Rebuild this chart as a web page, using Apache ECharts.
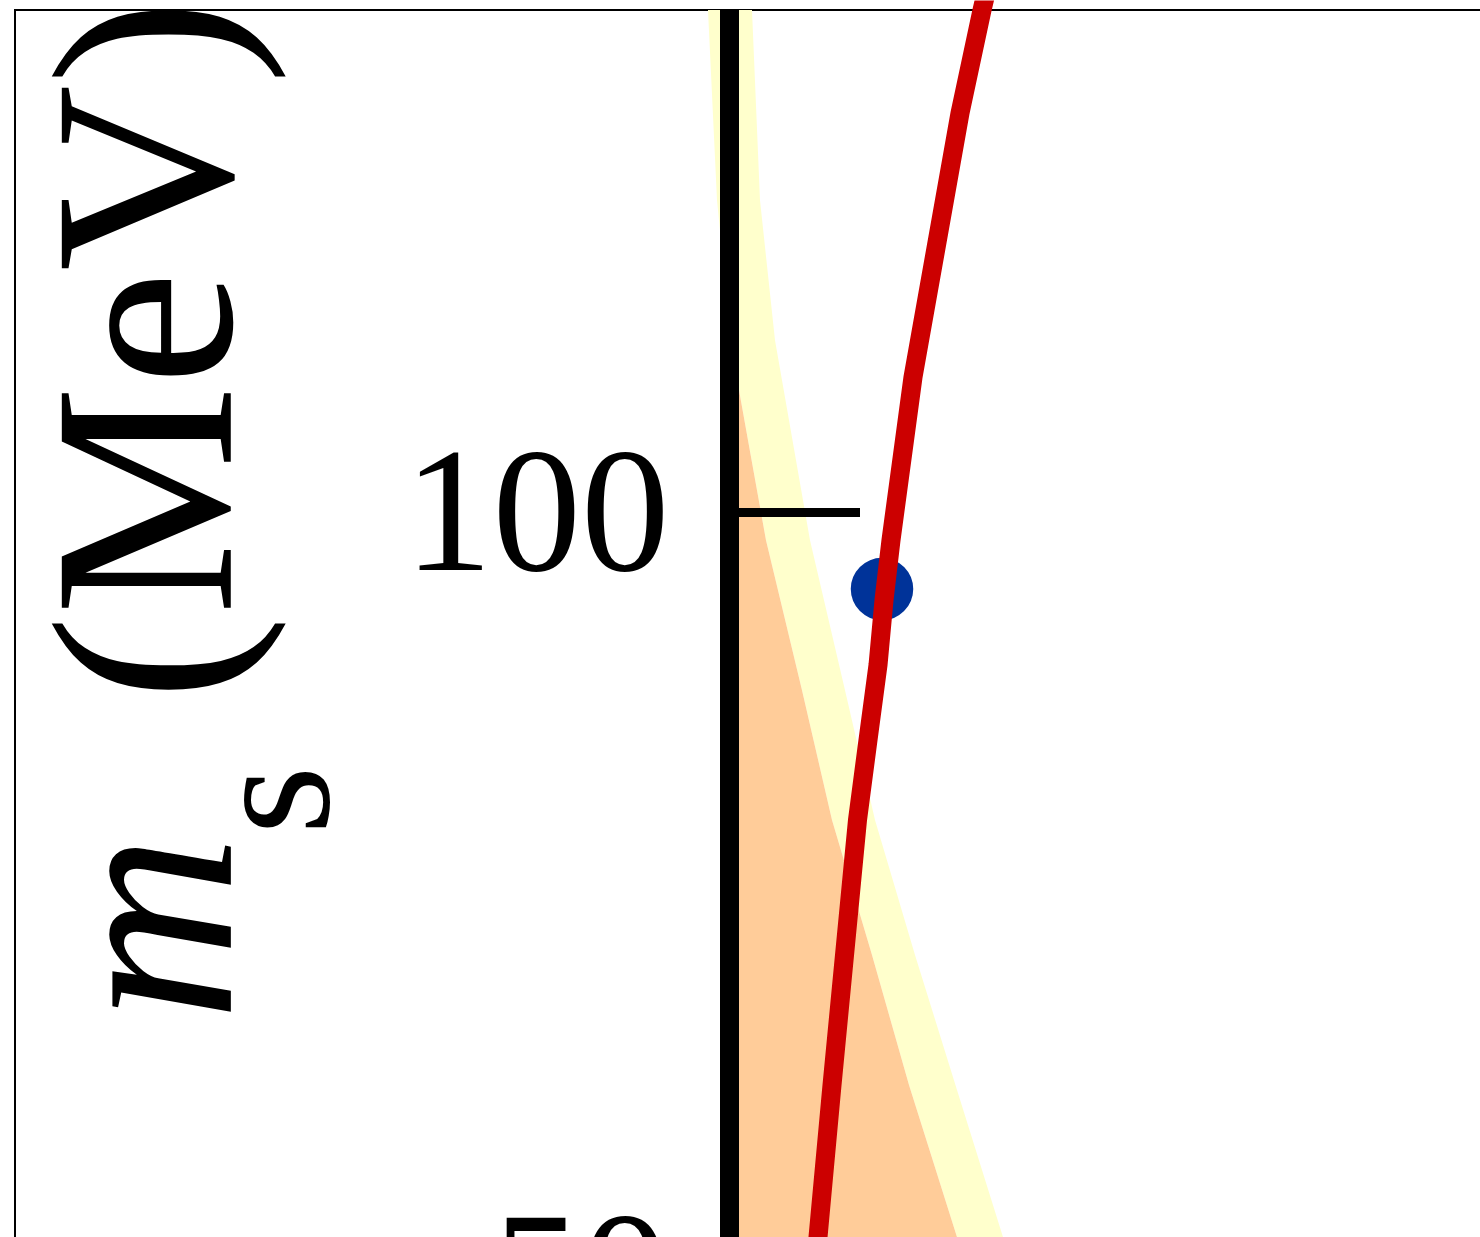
<!DOCTYPE html>
<html>
<head>
<meta charset="utf-8">
<script src="https://cdn.jsdelivr.net/npm/echarts@6/dist/echarts.min.js"></script>
<style>
html,body{margin:0;padding:0;background:#fff;}
#chart{width:1480px;height:1237px;}
</style>
</head>
<body>
<div id="chart"></div>
<script>
// y-axis tick values (MeV)
const yTickValues = [50, 100];

// boundary curve (left edge of the yellow band / right edge of the orange region)
const boundaryX = [-0.222, -0.215, -0.125, 0.015, 0.095, 0.185, 0.275, 0.365, 0.725, 1.025, 1.425, 1.795, 2.275, 2.435];
const boundaryY = [134.2, 132.89, 120.45, 111.29, 108.02, 104.74, 101.47, 98.2, 88.38, 79.88, 71.04, 62.53, 52.58, 49.1];

// outer edge of the yellow band
const bandEdgeX = [0.22, 0.225, 0.305, 0.455, 0.805, 1.155, 1.455, 1.855, 2.275, 2.735, 2.905];
const bandEdgeY = [134.2, 132.89, 120.45, 111.29, 98.2, 88.38, 79.88, 71.04, 62.21, 52.58, 49.1];

// red m_s curve
const msCurveX = [2.56, 2.525, 2.305, 1.835, 1.615, 1.545, 1.485, 1.385, 1.28, 1.155, 1.025, 0.885, 0.835];
const msCurveY = [133.87, 132.89, 126.15, 108.87, 98.2, 94.27, 90.02, 85.11, 79.88, 71.37, 62.53, 52.58, 49.1];

// blue point
const msPointX = [1.525];
const msPointY = [95.0];

const chart = echarts.init(document.getElementById('chart'), null, {renderer: 'canvas'});

const pair = (xs, ys) => xs.map((x, i) => [x, ys[i]]);
const orangeData = pair(boundaryX, boundaryY).filter(p => p[0] >= 0);

const serif = 'Liberation Serif';

const option = {
  animation: false,
  backgroundColor: '#fff',
  grid: {
    left: 15, top: 10, width: 1714.5, height: 1266.5,
    show: true, borderColor: '#000', borderWidth: 2,
    backgroundColor: 'transparent',
    containLabel: false,
    outerBoundsMode: 'none'
  },
  xAxis: {
    type: 'value', min: -7.145, max: 10, show: false,
    splitLine: {show: false}
  },
  yAxis: {
    type: 'value', min: 50, max: 132.9, interval: 50, z: 10,
    position: 'left',
    offset: -714.5,
    axisLine: {show: true, onZero: false, lineStyle: {color: '#000', width: 19, cap: 'butt'}},
    axisTick: {show: true, inside: true, length: 130.5, customValues: yTickValues,
               lineStyle: {color: '#000', width: 9, cap: 'butt'}},
    axisLabel: {
      show: true, margin: 60, color: '#000',
      fontFamily: serif, fontSize: 177,
      showMinLabel: true, showMaxLabel: false, hideOverlap: false,
      formatter: function (v) { return yTickValues.indexOf(v) >= 0 ? '{v|' + v + '}' : ''; },
      rich: {
        v: {fontFamily: serif, fontSize: 177, color: '#000', padding: [22, 0, 0, 0]}
      }
    },
    splitLine: {show: false}
  },
  graphic: [{
    type: 'text',
    x: 163, y: 510,
    rotation: Math.PI / 2,
    z: 100,
    style: {
      text: '{m|m}{s|s}{u| (MeV)}',
      align: 'center',
      verticalAlign: 'middle',
      fill: '#000',
      rich: {
        m: {fontFamily: serif, fontStyle: 'italic', fontSize: 258, fill: '#000'},
        s: {fontFamily: serif, fontSize: 178, fill: '#000', padding: [237, 0, 0, 0]},
        u: {fontFamily: serif, fontSize: 258, fill: '#000'}
      }
    }
  }],
  series: [
    {
      type: 'custom',
      name: 'band',
      coordinateSystem: 'cartesian2d',
      clip: true,
      silent: true,
      data: [[0, 100]],
      renderItem: function (params, api) {
        const pts = [];
        for (let i = 0; i < bandEdgeX.length; i++) pts.push(api.coord([bandEdgeX[i], bandEdgeY[i]]));
        for (let i = boundaryX.length - 1; i >= 0; i--) pts.push(api.coord([boundaryX[i], boundaryY[i]]));
        return {type: 'polygon', shape: {points: pts}, style: {fill: '#FFFFCC', stroke: null}};
      }
    },
    {
      type: 'line',
      name: 'region',
      data: orangeData,
      showSymbol: false,
      symbol: 'none',
      silent: true,
      lineStyle: {width: 0, color: '#FFCC99'},
      areaStyle: {color: '#FFCC99', opacity: 1, origin: 'start'}
    },
    {
      type: 'line',
      name: 'm_s',
      data: pair(msCurveX, msCurveY),
      showSymbol: false,
      symbol: 'none',
      silent: true,
      lineStyle: {width: 19, color: '#CC0000', join: 'round'}
    },
    {
      type: 'scatter',
      name: 'point',
      data: pair(msPointX, msPointY),
      symbol: 'circle',
      symbolSize: 62.5,
      silent: true,
      itemStyle: {color: '#003399', opacity: 1}
    }
  ]
};
chart.setOption(option);
</script>
</body>
</html>
